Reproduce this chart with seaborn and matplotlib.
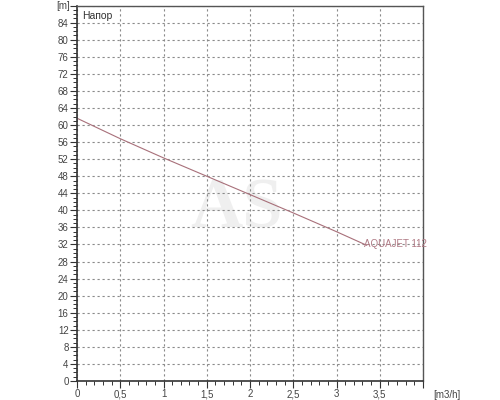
import numpy as np
import pandas as pd
import matplotlib
matplotlib.use('Agg')
import matplotlib.pyplot as plt
import seaborn as sns
from matplotlib.ticker import MultipleLocator, FuncFormatter

# Кривая напора насоса AQUAJET 112
flow = [0.0, 0.5, 1.0, 1.5, 2.0, 2.5, 3.0, 3.35]
head = [61.6, 56.8, 52.3, 48.0, 43.7, 39.4, 35.0, 31.8]
pump_name = 'AQUAJET 112'

df = pd.DataFrame({'flow': flow, 'head': head})

sns.set_style('white')
plt.rcParams['font.family'] = ['Liberation Sans', 'DejaVu Sans']

fig = plt.figure(figsize=(5, 4), dpi=100)
ax = fig.add_axes([0.154, 0.0475, 0.692, 0.9385])

sns.lineplot(data=df, x='flow', y='head', ax=ax, color='#a8707a', linewidth=0.8)

ax.set_xlim(0, 4)
ax.set_ylim(0, 88)
ax.xaxis.set_major_locator(MultipleLocator(0.5))
ax.xaxis.set_minor_locator(MultipleLocator(0.1))
ax.yaxis.set_major_locator(MultipleLocator(4))
ax.yaxis.set_minor_locator(MultipleLocator(1))

def fmt_x(v, pos):
    if v >= 3.99:
        return ''
    return ('%g' % v).replace('.', ',')

def fmt_y(v, pos):
    if v >= 87.9:
        return ''
    return '%d' % v

ax.xaxis.set_major_formatter(FuncFormatter(fmt_x))
ax.yaxis.set_major_formatter(FuncFormatter(fmt_y))
ax.tick_params(axis='both', which='both', bottom=True, left=True, top=False, right=False)
ax.tick_params(axis='both', which='major', direction='out', length=5, width=0.8,
               labelsize=7, colors='#333333', labelcolor='#444444', pad=1)
ax.tick_params(axis='both', which='minor', direction='out', length=3, width=0.7,
               colors='#333333')

ax.grid(True, which='major', linestyle=(0, (2, 2.5)), color='#8a8a8a', linewidth=0.8)
ax.set_xlabel('')
ax.set_ylabel('')

for side in ['left', 'bottom']:
    ax.spines[side].set_color('#333333')
    ax.spines[side].set_linewidth(1.2)
for side in ['top', 'right']:
    ax.spines[side].set_color('#555555')
    ax.spines[side].set_linewidth(1.0)

# Подписи
ax.text(-0.02, 1.0, '[m]', transform=ax.transAxes, ha='right', va='center',
        fontsize=7, color='#444444')
ax.text(0.015, 0.985, 'Напор', transform=ax.transAxes, ha='left', va='top',
        fontsize=7.5, color='#333333')
ax.text(1.03, -0.025, '[m3/h]', transform=ax.transAxes, ha='left', va='top',
        fontsize=7, color='#444444')
ax.text(flow[-1] - 0.03, head[-1] + 0.2, pump_name, ha='left', va='center',
        fontsize=7, color='#b07a85')

# Водяной знак
ax.text(0.46, 0.455, 'AS', transform=ax.transAxes, ha='center', va='center',
        fontsize=52, fontweight='bold', color='#efefef', zorder=0,
        family=['Liberation Serif', 'DejaVu Serif'])

fig.savefig('out.png', dpi=100)
